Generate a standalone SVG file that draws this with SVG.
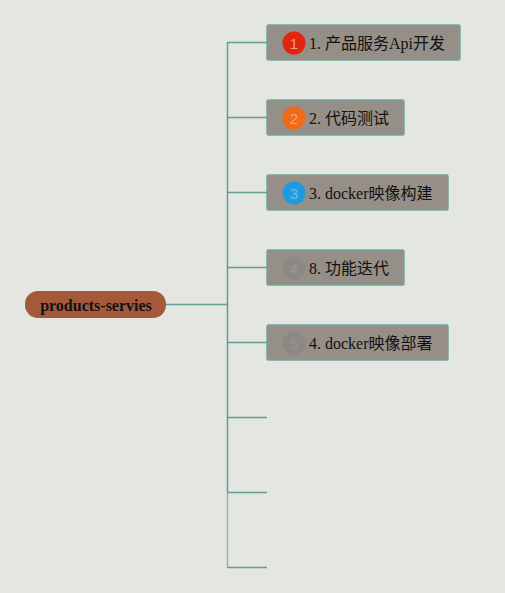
<svg xmlns="http://www.w3.org/2000/svg" width="505" height="593" viewBox="0 0 505 593">
<style>
.conn{stroke:#5f9e90;stroke-width:1.5;fill:none}
.box{fill:#958f87;stroke:#6fa898;stroke-width:1.5}
.lbl{font-family:"Liberation Serif","Noto Sans CJK SC",serif;font-size:16px;fill:#111}
.num{font-family:"Liberation Sans","Noto Sans",sans-serif;font-size:15px;text-anchor:middle}
</style>
<rect width="505" height="593" fill="#e4e6e2"/>
<g id="connectors">
<path class="conn" d="M166 304.5H227"/>
<path class="conn" d="M227.5 42V492"/>
<path class="conn" d="M227.5 492V567" stroke-opacity="0.6"/>
<path class="conn" d="M227 42.5H267M227 117.5H267M227 192.5H267M227 267.5H267M227 342.5H267M227 417.5H267M227 492.5H267M227 567.5H267"/>
</g>
<g id="root">
<rect x="25" y="291" width="141" height="27" rx="13" fill="#a5593b"/>
<text x="96" y="310.5" text-anchor="middle" font-family="Liberation Serif,serif" font-weight="bold" font-size="16" fill="#111">products-servies</text>
</g>
<g id="n1">
<rect class="box" x="267" y="25" width="193" height="35" rx="1.5"/>
<circle cx="294" cy="43" r="11.5" fill="#e2250f"/>
<text class="num" x="294" y="48.5" fill="#f49a8a">1</text>
<text class="lbl" x="309" y="49">1. 产品服务Api开发</text>
</g>
<g id="n2">
<rect class="box" x="267" y="100" width="137" height="35" rx="1.5"/>
<circle cx="294" cy="118" r="11.5" fill="#f06a1a"/>
<text class="num" x="294" y="123.5" fill="#f5a66e">2</text>
<text class="lbl" x="309" y="124">2. 代码测试</text>
</g>
<g id="n3">
<rect class="box" x="267" y="175" width="181" height="35" rx="1.5"/>
<circle cx="294" cy="193" r="11.5" fill="#1e9ae0"/>
<text class="num" x="294" y="198.5" fill="#6fbde8">3</text>
<text class="lbl" x="309" y="199">3. docker映像构建</text>
</g>
<g id="n4">
<rect class="box" x="267" y="250" width="137" height="35" rx="1.5"/>
<circle cx="294" cy="268" r="11.5" fill="#8c8985"/>
<text class="num" x="294" y="273.5" fill="#999590">4</text>
<text class="lbl" x="309" y="274">8. 功能迭代</text>
</g>
<g id="n5">
<rect class="box" x="267" y="325" width="181" height="35" rx="1.5"/>
<circle cx="294" cy="343" r="11.5" fill="#8c8985"/>
<text class="num" x="294" y="348.5" fill="#999590">5</text>
<text class="lbl" x="309" y="349">4. docker映像部署</text>
</g>
</svg>
